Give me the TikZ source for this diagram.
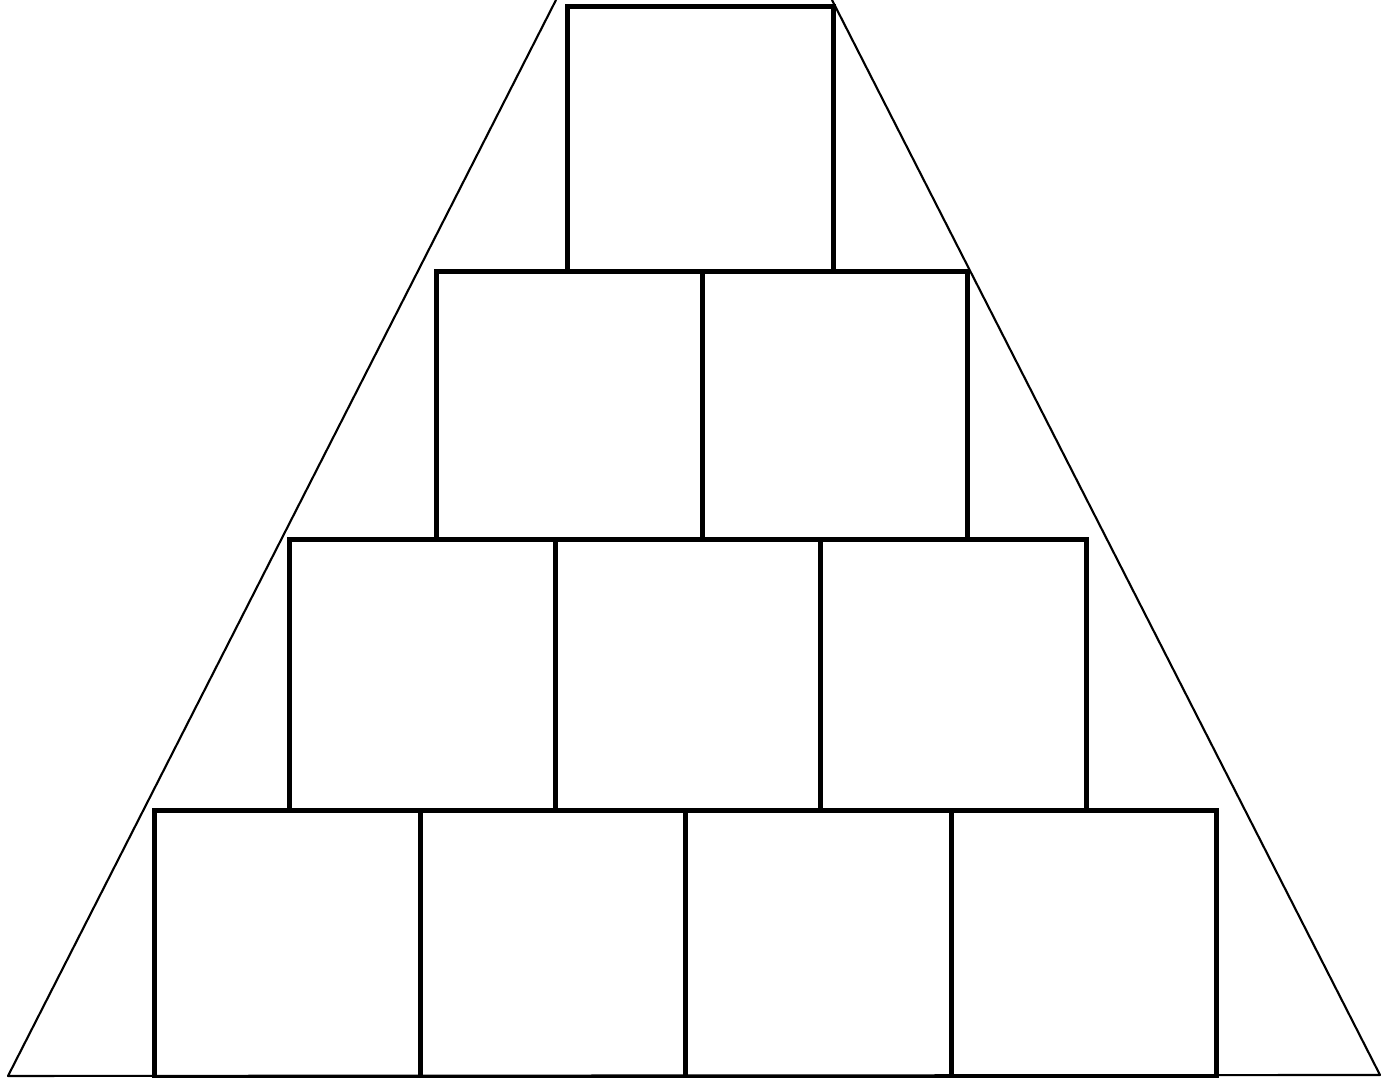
\documentclass[tikz,border=0pt]{standalone}
\usetikzlibrary{positioning,calc}
\tikzset{
  block/.style={rectangle,draw,line width=1.5pt,minimum width=2.655cm,inner sep=0,anchor=north west},
  slope/.style={line width=0.6pt,line join=round},
}
\begin{document}
\begin{tikzpicture}
  \useasboundingbox (0,0) rectangle (13.88,10.78);
  % outline of the pyramid
  \coordinate (tl) at (5.56,10.78);
  \coordinate (tr) at (8.32,10.78);
  \coordinate (bl) at (0.08,0.02);
  \coordinate (br) at (13.80,0.03);
  \draw[slope] (tl) -- (bl) -- (br) -- (tr);
  % the blocks, row by row from the top
  \foreach \row/\n/\x/\y/\h in {1/1/5.65/10.74/2.65, 2/2/4.34/8.09/2.68, 3/3/2.87/5.41/2.71, 4/4/1.52/2.70/2.68}{
    \foreach \i in {1,...,\n}
      \node[block,minimum height=\h cm] (b\row\i) at ({\x+(\i-1)*2.655},\y) {};
  }
\end{tikzpicture}
\end{document}
